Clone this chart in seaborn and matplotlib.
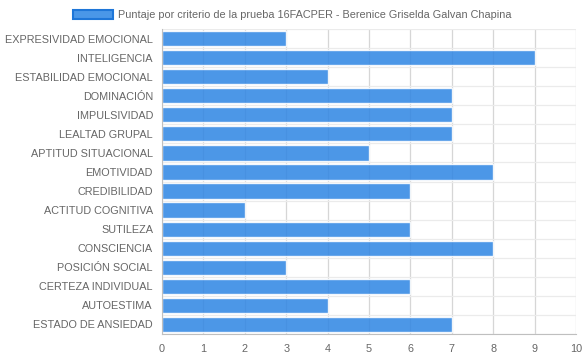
import pandas as pd
import numpy as np
import matplotlib
matplotlib.use('Agg')
import matplotlib.pyplot as plt
import seaborn as sns
from matplotlib.patches import Patch

criterios = ['EXPRESIVIDAD EMOCIONAL', 'INTELIGENCIA', 'ESTABILIDAD EMOCIONAL',
             'DOMINACIÓN', 'IMPULSIVIDAD', 'LEALTAD GRUPAL', 'APTITUD SITUACIONAL',
             'EMOTIVIDAD', 'CREDIBILIDAD', 'ACTITUD COGNITIVA', 'SUTILEZA',
             'CONSCIENCIA', 'POSICIÓN SOCIAL', 'CERTEZA INDIVIDUAL', 'AUTOESTIMA',
             'ESTADO DE ANSIEDAD']
puntaje = [3, 9, 4, 7, 7, 7, 5, 8, 6, 2, 6, 8, 3, 6, 4, 7]
serie = 'Puntaje por criterio de la prueba 16FACPER - Berenice Griselda Galvan Chapina'

df = pd.DataFrame({'criterio': criterios, 'puntaje': puntaje})

sns.set_style('white')
plt.rcParams['font.family'] = ['Liberation Sans', 'DejaVu Sans']
txt = '#666666'

fig = plt.figure(figsize=(5.84, 3.59), dpi=100)
ax = fig.add_axes([162 / 584, 1 - 334 / 359, 414 / 584, 305 / 359])

ax.set_axisbelow(True)
ax.grid(axis='x', color='#d6d6d6', linewidth=0.9)
sns.barplot(data=df, x='puntaje', y='criterio', orient='h', color='#2f86e3',
            alpha=0.86, width=0.8, saturation=1, ax=ax)

ax.set_xlim(0, 10)
ax.set_xticks(range(11))
ax.set_ylim(len(criterios) - 0.5, -0.5)
ax.set_yticks(np.arange(-0.5, len(criterios), 1), minor=True)
ax.grid(axis='y', which='minor', color='#ebebeb', linewidth=0.9)
ax.tick_params(axis='y', which='minor', length=10, color='#ebebeb')
ax.tick_params(axis='y', which='major', length=0, pad=6.5, labelsize=7.8, labelcolor=txt)
ax.tick_params(axis='x', length=5, color='#d0d0d0', labelsize=7.8, labelcolor=txt, pad=2.5)
ax.set_xlabel('')
ax.set_ylabel('')

for s in ['top', 'right']:
    ax.spines[s].set_visible(False)
ax.spines['left'].set_color('#bfbfbf')
ax.spines['bottom'].set_color('#bfbfbf')

handle = Patch(facecolor='#4a97e8', edgecolor='#1e76d8', linewidth=1.5)
fig.legend([handle], [serie], loc='upper center', bbox_to_anchor=(0.5, 1.0),
           frameon=False, fontsize=7.8, handlelength=3.7, handleheight=1.0,
           handletextpad=0.5, labelcolor=txt)

fig.savefig('out.png', dpi=100)
